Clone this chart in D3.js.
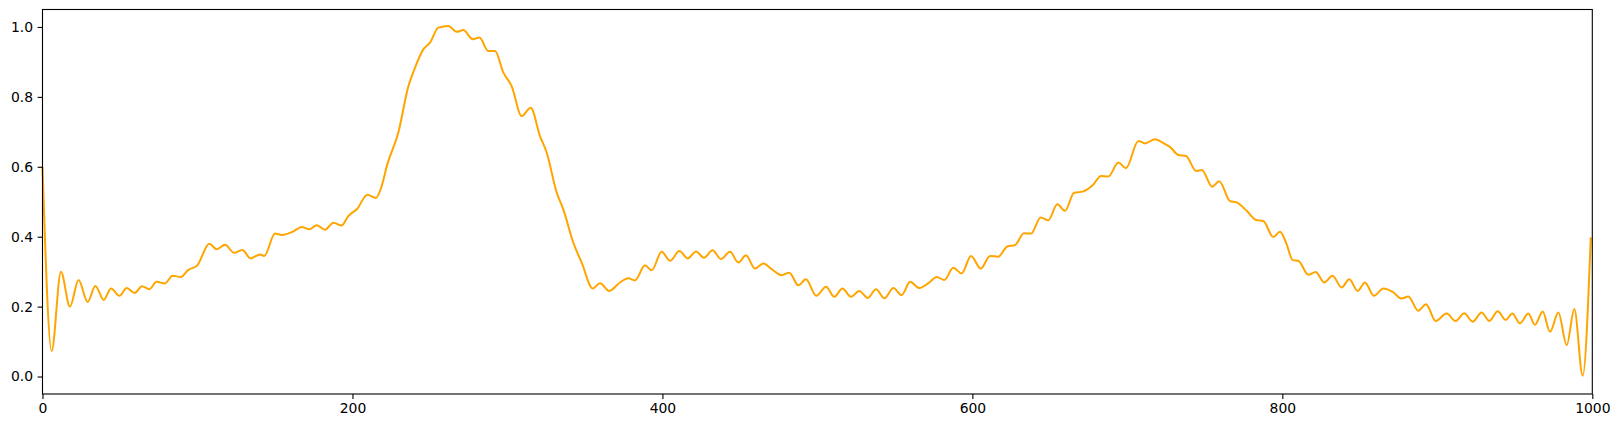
<!DOCTYPE html>
<html>
<head>
<meta charset="utf-8">
<script src="https://cdn.jsdelivr.net/npm/d3@7"></script>
<style>
    body { margin: 0; background: #fff; }
    text { font-family: "DejaVu Sans", sans-serif; }
</style>
</head>
<body>
<script>
"use strict";
(function () {

    // Values (x position, signal value)
    const xValues = [
        0, 5.9, 11.9, 17.7, 23.3, 29.1, 34.1, 39.5, 44.2, 49.6, 54.3, 59.5, 64.2, 68.9, 73.7, 78.8,
        84.0, 89.2, 94.1, 99.9, 107.6, 112.4, 117.8, 123.6, 128.9, 134.3, 140.3, 143.1, 150.0, 154.3,
        161.8, 167.2, 172.2, 176.9, 182.3, 187.7, 193.0, 197.3, 203.1, 209.6, 215.2, 218.2, 222.5,
        229.6, 236.0, 240.4, 245.7, 250.0, 255.4, 261.8, 267.3, 271.5, 277.6, 281.9, 287.7, 292.0,
        297.3, 302.7, 309.2, 315.0, 321.0, 325.3, 331.8, 336.0, 342.5, 347.9, 355.0, 359.7, 365.7,
        372.6, 378.0, 382.3, 388.8, 393.1, 399.5, 404.9, 410.9, 416.3, 421.7, 426.8, 432.4, 437.8,
        443.6, 449.0, 453.9, 459.7, 465.1, 470.5, 477.0, 481.9, 487.7, 492.6, 499.3, 505.6, 510.9,
        516.1, 521.7, 527.0, 532.5, 537.8, 543.2, 549.0, 554.4, 559.8, 565.8, 571.6, 577.0, 581.9,
        587.7, 593.1, 599.1, 605.4, 611.4, 616.7, 622.5, 627.5, 633.3, 637.8, 644.1, 649.0, 654.8,
        659.8, 665.6, 671.2, 677.6, 683.0, 687.7, 694.2, 699.1, 707.1, 711.4, 717.8, 722.8, 727.5,
        732.9, 737.9, 744.3, 748.0, 754.8, 759.3, 766.2, 770.5, 777.0, 783.0, 787.7, 794.2, 798.5,
        802.4, 806.7, 810.3, 816.8, 821.5, 827.1, 832.3, 838.3, 843.2, 848.6, 853.3, 859.1, 865.2,
        871.2, 877.0, 881.3, 887.7, 892.7, 899.0, 906.0, 911.8, 917.4, 922.8, 928.6, 933.6, 939.0,
        944.1, 948.4, 953.3, 958.7, 963.0, 968.0, 972.7, 978.1, 983.5, 988.4, 993.8, 999.0
    ]
    const yValues = [
        0.600, 0.073, 0.300, 0.200, 0.276, 0.213, 0.259, 0.219, 0.252, 0.231, 0.253, 0.239, 0.258, 0.250, 0.271, 0.266,
        0.288, 0.285, 0.305, 0.318, 0.380, 0.364, 0.377, 0.354, 0.362, 0.338, 0.349, 0.345, 0.409, 0.405,
        0.415, 0.428, 0.421, 0.433, 0.420, 0.440, 0.432, 0.459, 0.480, 0.520, 0.511, 0.536, 0.607,
        0.698, 0.829, 0.884, 0.936, 0.955, 0.998, 1.003, 0.986, 0.991, 0.965, 0.970, 0.931, 0.931,
        0.870, 0.831, 0.745, 0.769, 0.688, 0.641, 0.526, 0.479, 0.383, 0.326, 0.252, 0.267, 0.245,
        0.269, 0.281, 0.275, 0.318, 0.304, 0.357, 0.331, 0.359, 0.338, 0.358, 0.340, 0.361, 0.336,
        0.357, 0.326, 0.347, 0.309, 0.323, 0.307, 0.290, 0.297, 0.261, 0.278, 0.231, 0.257, 0.228,
        0.252, 0.228, 0.245, 0.225, 0.250, 0.224, 0.253, 0.233, 0.271, 0.253, 0.267, 0.285, 0.276,
        0.311, 0.295, 0.345, 0.309, 0.345, 0.343, 0.372, 0.376, 0.410, 0.409, 0.455, 0.447, 0.493,
        0.474, 0.526, 0.529, 0.547, 0.574, 0.572, 0.612, 0.596, 0.674, 0.667, 0.679, 0.669, 0.657,
        0.634, 0.631, 0.588, 0.591, 0.543, 0.559, 0.502, 0.498, 0.474, 0.448, 0.445, 0.399, 0.414,
        0.383, 0.333, 0.331, 0.291, 0.299, 0.269, 0.288, 0.255, 0.278, 0.245, 0.269, 0.231, 0.252,
        0.242, 0.223, 0.229, 0.188, 0.207, 0.159, 0.180, 0.159, 0.181, 0.157, 0.183, 0.159, 0.187,
        0.162, 0.180, 0.152, 0.180, 0.148, 0.186, 0.128, 0.183, 0.090, 0.193, 0.002, 0.398
    ]

    const xTicks = [0, 200, 400, 600, 800, 1000]
    const yTicks = [0.0, 0.2, 0.4, 0.6, 0.8, 1.0]

    // Dimensions for svg
    const measurements = {
        width: 1619,
        height: 428,
        left: 42.5,
        right: 1592.3,
        top: 9.5,
        bottom: 394
    }

    const svgContainer = d3.select('body').append('svg')
        .attr('width', measurements.width)
        .attr('height', measurements.height)

    const scaleX = d3.scaleLinear()
        .domain([0, 1000])
        .range([measurements.left, measurements.right])

    const scaleY = d3.scaleLinear()
        .domain([-0.05, 1.05])
        .range([measurements.bottom, measurements.top])

    // Line
    const points = xValues.map((x, i) => [x, yValues[i]])
    const line = d3.line()
        .x(d => scaleX(d[0]))
        .y(d => scaleY(d[1]))
        .curve(d3.curveMonotoneX)

    svgContainer.append('path')
        .datum(points)
        .attr('d', line)
        .attr('fill', 'none')
        .attr('stroke', '#FFA500')
        .attr('stroke-width', 2)
        .attr('stroke-linejoin', 'round')

    // Axes
    const xAxis = d3.axisBottom(scaleX)
        .tickValues(xTicks)
        .tickFormat(d3.format('d'))
        .tickSize(4.9)
        .tickPadding(4.5)

    const yAxis = d3.axisLeft(scaleY)
        .tickValues(yTicks)
        .tickFormat(d3.format('.1f'))
        .tickSize(4.9)
        .tickPadding(4.5)

    const gx = svgContainer.append('g')
        .attr('transform', 'translate(0,' + measurements.bottom + ')')
        .call(xAxis)

    const gy = svgContainer.append('g')
        .attr('transform', 'translate(' + measurements.left + ',0)')
        .call(yAxis)

    for (const g of [gx, gy]) {
        g.select('.domain').remove()
        g.selectAll('line').attr('stroke', '#000').attr('stroke-width', 1.1)
        g.selectAll('text')
            .attr('fill', '#000')
            .style('font-size', '13.9px')
            .style('font-family', '"DejaVu Sans", sans-serif')
    }

    // Frame
    svgContainer.append('rect')
        .attr('x', measurements.left)
        .attr('y', measurements.top)
        .attr('width', measurements.right - measurements.left)
        .attr('height', measurements.bottom - measurements.top)
        .attr('fill', 'none')
        .attr('stroke', '#000')
        .attr('stroke-width', 1.1)

})()
</script>
</body>
</html>
